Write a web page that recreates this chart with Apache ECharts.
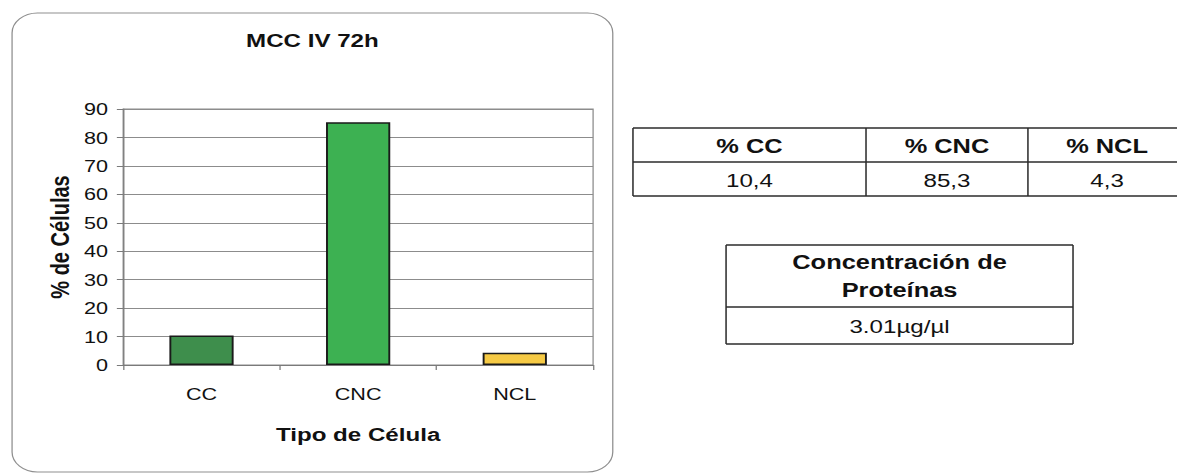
<!DOCTYPE html>
<html>
<head>
<meta charset="utf-8">
<title>MCC IV 72h</title>
<script src="https://cdn.jsdelivr.net/npm/echarts@6/dist/echarts.min.js"></script>
<style>
  html, body { margin: 0; padding: 0; background: #ffffff; overflow: hidden; }
  /* the figure is laid out on a narrower canvas and widened, which gives its wide lettering */
  #wrap { width: 927px; height: 474px; transform: scaleX(1.27); transform-origin: 0 0; }
  #chart { width: 927px; height: 474px; }
</style>
</head>
<body>
<div id="wrap"><div id="chart"></div></div>
<script>
// ---- data ----
const categories = ['CC', 'CNC', 'NCL'];
const cellPercent = [10.4, 85.3, 4.3];
const yMin = 0, yMax = 90, yStep = 10;
const chartTitle = 'MCC IV 72h';
const xAxisTitle = 'Tipo de Célula';
const yAxisTitle = '% de Células';
const proteinHeader = ['Concentración de', 'Proteínas'];
const proteinConcentration = 3.01;
const proteinUnit = 'µg/µl';

// ---- styles ----
const barColors = ['#3e8e4c', '#3db152', '#f6ca45'];
const FONT = "'Liberation Sans', Arial, Helvetica, sans-serif";
const INK = '#111111';
const GRID_GRAY = '#8c8c8c';
const TABLE_LINE = '#2b2b2b';

const fmtComma = v => v.toFixed(1).replace('.', ',');

// ---- layout (pre-widening coordinates) ----
const box = { x: 9.5, y: 13, w: 473, h: 459, r: 20 };
const plot = { left: 97, top: 109, width: 370, height: 256 };
const t1 = { cols: [498.4, 681.9, 809.4, 934], rows: [128, 162, 196] };
const t2 = { x0: 571.7, x1: 844.9, rows: [245, 307, 344], lineY: [262.5, 290.5] };

const graphics = [];

// rounded frame around the chart
graphics.push({
  type: 'rect', z: -10, silent: true,
  shape: { x: box.x, y: box.y, width: box.w, height: box.h, r: box.r },
  style: { fill: 'rgba(0,0,0,0)', stroke: '#8f8f8f', lineWidth: 1 }
});

// chart title
graphics.push({
  type: 'text', silent: true,
  style: {
    x: box.x + box.w / 2, y: 40, text: chartTitle,
    font: 'bold 19px ' + FONT, fill: INK, align: 'center', verticalAlign: 'middle'
  }
});

function hLine(x0, x1, y) {
  return { type: 'line', silent: true, shape: { x1: x0, y1: y, x2: x1, y2: y },
           style: { stroke: TABLE_LINE, lineWidth: 1.4 } };
}
function vLine(x, y0, y1) {
  return { type: 'line', silent: true, shape: { x1: x, y1: y0, x2: x, y2: y1 },
           style: { stroke: TABLE_LINE, lineWidth: 1.2 } };
}
function cellText(x, y, text, bold, size) {
  return { type: 'text', silent: true,
           style: { x: x, y: y, text: text, font: (bold ? 'bold ' : '') + size + 'px ' + FONT,
                    fill: INK, align: 'center', verticalAlign: 'middle' } };
}

// percentage table
t1.rows.forEach(y => graphics.push(hLine(t1.cols[0], t1.cols[t1.cols.length - 1], y)));
t1.cols.forEach(x => graphics.push(vLine(x, t1.rows[0], t1.rows[2])));
categories.forEach((c, i) => {
  const cx = (t1.cols[i] + t1.cols[i + 1]) / 2;
  graphics.push(cellText(cx, (t1.rows[0] + t1.rows[1]) / 2 + 1, '% ' + c, true, 20));
  graphics.push(cellText(cx, (t1.rows[1] + t1.rows[2]) / 2 + 1, fmtComma(cellPercent[i]), false, 19));
});

// protein concentration table
t2.rows.forEach(y => graphics.push(hLine(t2.x0, t2.x1, y)));
graphics.push(vLine(t2.x0, t2.rows[0], t2.rows[2]));
graphics.push(vLine(t2.x1, t2.rows[0], t2.rows[2]));
const t2cx = (t2.x0 + t2.x1) / 2;
proteinHeader.forEach((line, i) => graphics.push(cellText(t2cx, t2.lineY[i], line, true, 20)));
graphics.push(cellText(t2cx, (t2.rows[1] + t2.rows[2]) / 2 + 1,
  proteinConcentration.toFixed(2) + proteinUnit, false, 19));

const chart = echarts.init(document.getElementById('chart'), null, { renderer: 'svg' });
chart.setOption({
  animation: false,
  backgroundColor: '#ffffff',
  textStyle: { fontFamily: FONT },
  grid: {
    left: plot.left, top: plot.top, width: plot.width, height: plot.height,
    show: true, borderColor: GRID_GRAY, borderWidth: 1, backgroundColor: 'rgba(0,0,0,0)'
  },
  xAxis: {
    type: 'category',
    data: categories,
    name: xAxisTitle,
    nameLocation: 'middle',
    nameGap: 60,
    nameTextStyle: { fontFamily: FONT, fontSize: 19, fontWeight: 'bold', color: INK },
    axisLine: { show: true, lineStyle: { color: '#7a7a7a', width: 1 } },
    axisTick: { show: true, length: 5, lineStyle: { color: '#7a7a7a' } },
    axisLabel: { fontFamily: FONT, fontSize: 17, color: INK, margin: 20 }
  },
  yAxis: {
    type: 'value',
    min: yMin, max: yMax, interval: yStep,
    name: yAxisTitle,
    nameLocation: 'middle',
    nameRotate: 90,
    nameGap: 40,
    nameTextStyle: { fontFamily: FONT, fontSize: 20, fontWeight: 'bold', color: INK },
    axisLine: { show: true, lineStyle: { color: '#7a7a7a', width: 1 } },
    axisTick: { show: true, length: 5, lineStyle: { color: '#7a7a7a' } },
    axisLabel: { fontFamily: FONT, fontSize: 17, color: INK, margin: 12 },
    splitLine: { show: true, lineStyle: { color: GRID_GRAY, width: 1 } }
  },
  series: [{
    type: 'bar',
    barWidth: '41%',
    data: cellPercent.map((v, i) => ({
      value: v,
      itemStyle: { color: barColors[i], borderColor: '#1a1a1a', borderWidth: 1.5 }
    }))
  }],
  graphic: graphics
});
</script>
</body>
</html>
